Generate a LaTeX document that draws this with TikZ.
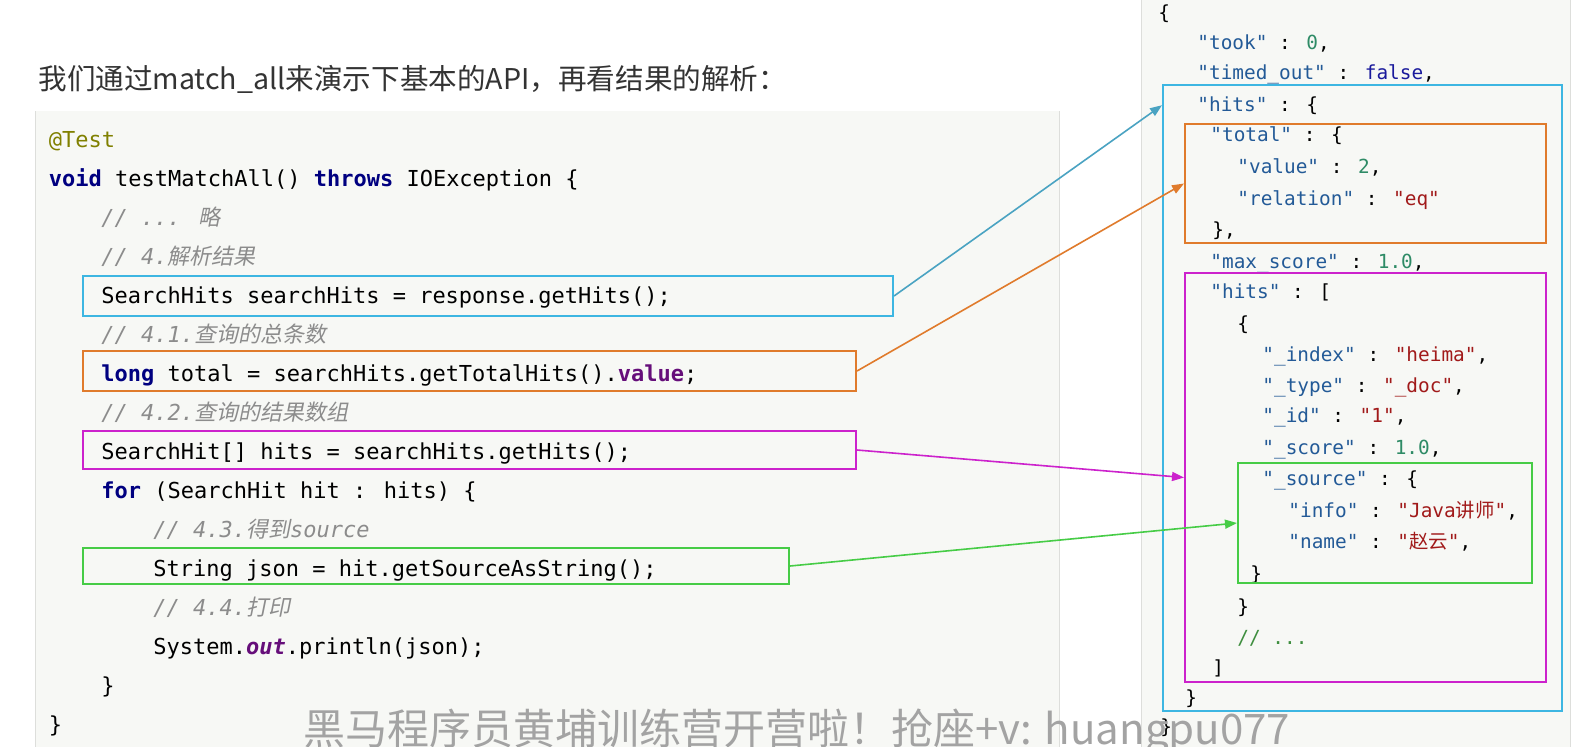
\documentclass[tikz,border=0pt]{standalone}
\usepackage{fontspec}
\usetikzlibrary{arrows.meta,fit}
\newfontfamily\cjk{Noto Sans CJK SC}
\newfontfamily\cjkit{Noto Sans CJK SC}[FakeSlant=0.2]
\newfontfamily\codefont{DejaVu Sans Mono}
\definecolor{panelbg}{HTML}{F7F8F5}
\definecolor{panelrule}{HTML}{DDDEDB}
\definecolor{kwcol}{HTML}{000080}
\definecolor{anncol}{HTML}{808000}
\definecolor{cmtcol}{HTML}{8C8C8C}
\definecolor{fldcol}{HTML}{660E7A}
\definecolor{keycol}{HTML}{235A97}
\definecolor{numcol}{HTML}{2E8B66}
\definecolor{boolcol}{HTML}{1A1A9C}
\definecolor{strcol}{HTML}{A11A1A}
\definecolor{jcmtcol}{HTML}{3E8E3E}
\definecolor{hlblue}{HTML}{3DB6E2}
\definecolor{hlblueline}{HTML}{4AA3C2}
\definecolor{hlorange}{HTML}{E07B2C}
\definecolor{hlpink}{HTML}{CC22CC}
\definecolor{hlgreen}{HTML}{46CC46}
\definecolor{markcol}{HTML}{A3A3A3}
\newcommand\kw[1]{{\color{kwcol}\bfseries #1}}
\newcommand\an[1]{{\color{anncol}#1}}
\newcommand\cm[1]{{\color{cmtcol}\itshape #1}}
\newcommand\zhi[1]{{\cjkit #1}}
\newcommand\fd[1]{{\color{fldcol}\bfseries #1}}
\newcommand\jk[1]{{\color{keycol}"#1"}}
\newcommand\jn[1]{{\color{numcol}#1}}
\newcommand\js[1]{{\color{strcol}"#1"}}
\begin{document}
\begin{tikzpicture}[x=0.5pt,y=-0.5pt,
		code/.style={anchor=base west,inner sep=0pt,font=\codefont\fontsize{11}{13}\selectfont},
		json/.style={anchor=base west,inner sep=0pt,font=\codefont\fontsize{9.7}{12}\selectfont},
		hlbox/.style={draw=#1,line width=1pt,inner sep=0pt},
		link/.style={draw=#1,line width=0.8pt,-{Triangle[length=6pt,width=4.5pt]}}]
		\clip (0,0) rectangle (1584,746);
		\fill[color=white] (0,0) rectangle (1584,746);
		\fill[color=panelbg] (35,111) rectangle (1059,760);
		\draw[color=panelrule] (35,111) -- (35,760) (1059,111) -- (1059,760);
		\fill[color=panelbg] (1141,-5) rectangle (1570,760);
		\draw[color=panelrule] (1141,-5) -- (1141,760) (1570,-5) -- (1570,760);

		\node[anchor=base west,inner sep=0pt,font=\cjk\fontsize{14.3}{17}\selectfont,text=black!80] (title) at (38,89) {我们通过match\_all来演示下基本的API，再看结果的解析：};

		\node[code] (lnTest) at (48.5,147) {\an{@Test}};
		\node[code] (lnSig) at (48.5,186) {\kw{void} testMatchAll() \kw{throws} IOException \{};
		\node[code] (lnSkip) at (101,225) {\cm{// ... \zhi{略}}};
		\node[code] (lnStep) at (101,264) {\cm{// 4.\zhi{解析结果}}};
		\node[code] (lnHits) at (101,303) {SearchHits searchHits = response.getHits();};
		\node[code] (lnStepA) at (101,342) {\cm{// 4.1.\zhi{查询的总条数}}};
		\node[code] (lnTotal) at (101,381) {\kw{long} total = searchHits.getTotalHits().\fd{value};};
		\node[code] (lnStepB) at (101,420) {\cm{// 4.2.\zhi{查询的结果数组}}};
		\node[code] (lnArr) at (101,459) {SearchHit[] hits = searchHits.getHits();};
		\node[code] (lnFor) at (101,498) {\kw{for} (SearchHit hit : hits) \{};
		\node[code] (lnStepC) at (153,537) {\cm{// 4.3.\zhi{得到}source}};
		\node[code] (lnSrc) at (153,576) {String json = hit.getSourceAsString();};
		\node[code] (lnStepD) at (153,615) {\cm{// 4.4.\zhi{打印}}};
		\node[code] (lnPrint) at (153,654) {System.{\color{fldcol}\bfseries\itshape out}.println(json);};
		\node[code] (lnEndFor) at (101,693) {\}};
		\node[code] (lnEnd) at (48.5,732) {\}};

		\node[json] (jOpen) at (1158,19) {\{};
		\node[json] (jTook) at (1197,49) {\jk{took} : \jn{0},};
		\node[json] (jTimed) at (1197,79) {\jk{timed\_out} : {\color{boolcol}false},};
		\node[json] (jHits) at (1197,111) {\jk{hits} : \{};
		\node[json] (jTotal) at (1210,141) {\jk{total} : \{};
		\node[json] (jValue) at (1237,173) {\jk{value} : \jn{2},};
		\node[json] (jRel) at (1237,205) {\jk{relation} : \js{eq}};
		\node[json] (jTotalEnd) at (1212,236) {\},};
		\node[json] (jMax) at (1210,268) {\jk{max\_score} : \jn{1.0},};
		\node[json] (jArr) at (1210,298) {\jk{hits} : [};
		\node[json] (jDoc) at (1237,330) {\{};
		\node[json] (jIndex) at (1262,361) {\jk{\_index} : \js{heima},};
		\node[json] (jType) at (1262,392) {\jk{\_type} : \js{\_doc},};
		\node[json] (jId) at (1262,422) {\jk{\_id} : \js{1},};
		\node[json] (jScore) at (1262,454) {\jk{\_score} : \jn{1.0},};
		\node[json] (jSrc) at (1262,485) {\jk{\_source} : \{};
		\node[json] (jInfo) at (1288,517) {\jk{info} : \js{Java{\cjk 讲师}},};
		\node[json] (jName) at (1288,548) {\jk{name} : \js{{\cjk 赵云}},};
		\node[json] (jSrcEnd) at (1250,580) {\}};
		\node[json] (jDocEnd) at (1237,613) {\}};
		\node[json] (jMore) at (1237,644) {{\color{jcmtcol}// ...}};
		\node[json] (jArrEnd) at (1212,674) {]};
		\node[json] (jHitsEnd) at (1185,704) {\}};
		\node[json] (jClose) at (1160,733) {\}};

		\node[hlbox=hlblue,fit={(83,276) (893,316)}] (bxHits) {};
		\node[hlbox=hlorange,fit={(83,351) (856,391)}] (bxTotal) {};
		\node[hlbox=hlpink,fit={(83,431) (856,469)}] (bxArr) {};
		\node[hlbox=hlgreen,fit={(83,548) (789,584)}] (bxSrc) {};
		\node[hlbox=hlblue,fit={(1163,85) (1562,711)}] (jbHits) {};
		\node[hlbox=hlorange,fit={(1185,124) (1546,243)}] (jbTotal) {};
		\node[hlbox=hlpink,fit={(1185,273) (1546,682)}] (jbArr) {};
		\node[hlbox=hlgreen,fit={(1238,463) (1532,583)}] (jbSrc) {};

		\draw[link=hlblueline] (bxHits.east) -- (jbHits.west |- jHits.west);
		\draw[link=hlorange] (bxTotal.east) -- (jbTotal.west);
		\draw[link=hlpink] (bxArr.east) -- (jbArr.west);
		\draw[link=hlgreen] (bxSrc.east) -- (jbSrc.west);

		\node[anchor=base west,inner sep=0pt,font=\cjk\fontsize{21}{24}\selectfont,text=markcol] (mark) at (303,744) {黑马程序员黄埔训练营开营啦！抢座+v: huangpu077};
	\end{tikzpicture}
\end{document}
